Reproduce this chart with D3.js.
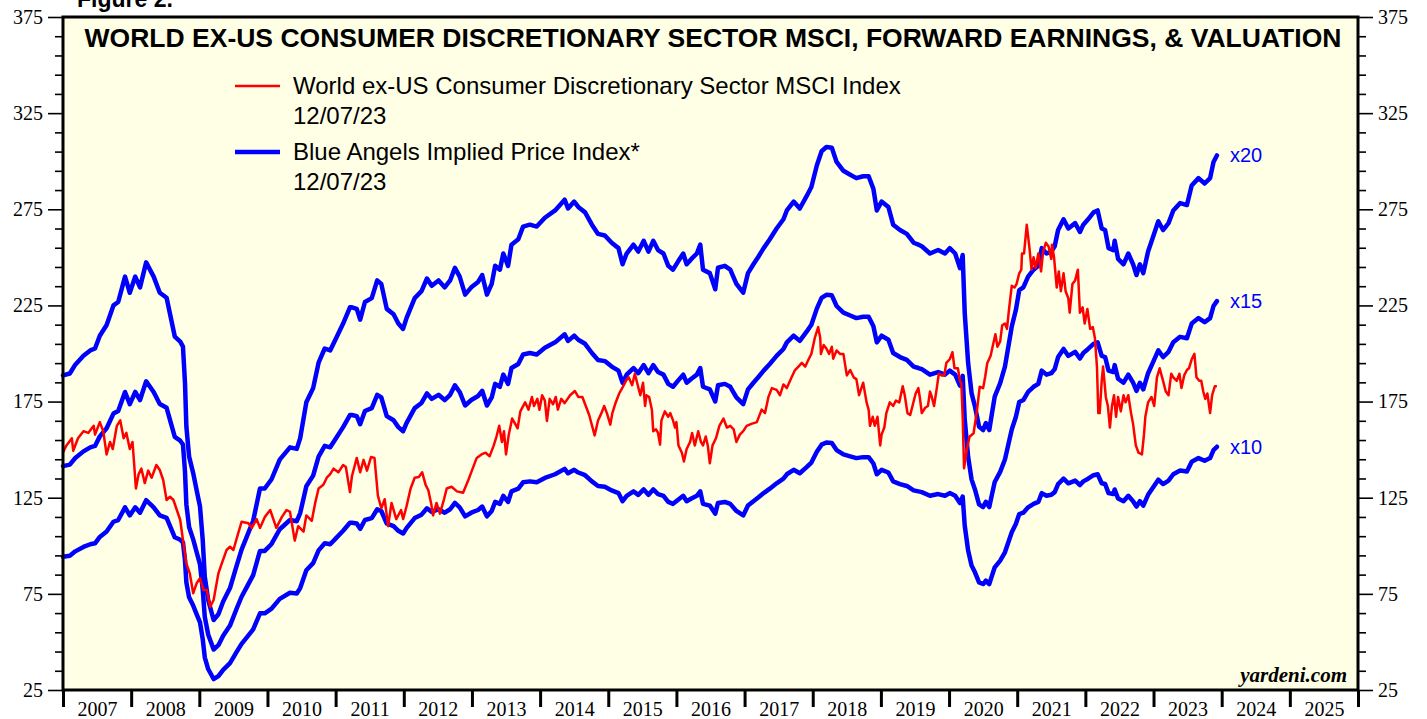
<!DOCTYPE html>
<html>
<head>
<meta charset="utf-8">
<script src="https://cdn.jsdelivr.net/npm/d3@7"></script>
<style>
  html, body { margin: 0; padding: 0; background: #ffffff; }
  svg { display: block; }
</style>
</head>
<body>
<svg id="chart" width="1427" height="719"></svg>
<script>
// ---------------- DATA ----------------
const titleText = "WORLD EX-US CONSUMER DISCRETIONARY SECTOR MSCI, FORWARD EARNINGS, & VALUATION";
const legendRed = ["World ex-US Consumer Discretionary Sector MSCI Index", "12/07/23"];
const legendBlue = ["Blue Angels Implied Price Index*", "12/07/23"];
const yMajorTicks = [25, 75, 125, 175, 225, 275, 325, 375];
const yearLabels = [2007,2008,2009,2010,2011,2012,2013,2014,2015,2016,2017,2018,2019,2020,2021,2022,2023,2024,2025];
const multiples = [10, 15, 20];

// MSCI index (red), decimal year / value
const redYears = [
2007.00,2007.05,2007.13,2007.15,2007.22,2007.30,2007.37,2007.45,2007.47,2007.54,2007.59,2007.64,2007.69,2007.73,2007.79,2007.84,2007.89,2007.93,2007.98,
2008.02,2008.07,2008.11,2008.15,2008.20,2008.25,2008.30,2008.37,2008.42,2008.47,2008.52,2008.57,2008.62,2008.67,2008.72,2008.76,2008.81,2008.86,2008.91,2008.96,
2009.01,2009.06,2009.11,2009.16,2009.21,2009.28,2009.33,2009.40,2009.45,2009.50,2009.57,2009.62,2009.72,2009.77,2009.84,2009.89,2009.96,
2010.04,2010.13,2010.21,2010.28,2010.33,2010.40,2010.45,2010.53,2010.57,2010.65,2010.70,2010.75,2010.82,2010.87,2010.92,2010.97,
2011.04,2011.11,2011.15,2011.21,2011.24,2011.31,2011.36,2011.41,2011.46,2011.52,2011.57,2011.62,2011.67,2011.72,2011.77,2011.82,2011.89,2011.96,2011.99,
2012.04,2012.10,2012.16,2012.22,2012.27,2012.32,2012.36,2012.40,2012.43,2012.48,2012.53,2012.59,2012.63,2012.70,2012.78,2012.87,2012.95,
2013.01,2013.07,2013.14,2013.20,2013.26,2013.32,2013.36,2013.40,2013.44,2013.47,2013.50,2013.54,2013.59,2013.62,2013.67,2013.71,2013.78,2013.83,2013.88,2013.91,2013.96,2013.99,
2014.03,2014.07,2014.10,2014.14,2014.19,2014.23,2014.26,2014.31,2014.36,2014.44,2014.51,2014.56,2014.62,2014.67,2014.72,2014.80,2014.85,2014.90,2014.94,2014.98,
2015.03,2015.06,2015.10,2015.16,2015.21,2015.26,2015.30,2015.35,2015.39,2015.43,2015.47,2015.51,2015.54,2015.56,2015.60,2015.64,2015.66,2015.70,2015.73,2015.76,2015.78,2015.83,2015.88,2015.91,2015.95,2015.98,
2016.00,2016.03,2016.08,2016.11,2016.15,2016.20,2016.23,2016.27,2016.32,2016.36,2016.39,2016.43,2016.46,2016.49,2016.53,2016.58,2016.63,2016.69,2016.74,2016.79,2016.84,2016.88,2016.93,2016.98,
2017.03,2017.10,2017.18,2017.25,2017.30,2017.35,2017.40,2017.47,2017.52,2017.57,2017.62,2017.69,2017.74,2017.79,2017.84,2017.89,2017.94,2017.98,
2018.03,2018.08,2018.11,2018.12,2018.16,2018.20,2018.24,2018.28,2018.30,2018.35,2018.40,2018.45,2018.50,2018.55,2018.60,2018.64,2018.68,2018.74,2018.79,2018.82,2018.84,2018.88,2018.91,2018.95,2018.99,
2019.01,2019.05,2019.08,2019.13,2019.18,2019.22,2019.27,2019.32,2019.35,2019.39,2019.43,2019.47,2019.51,2019.55,2019.57,2019.60,2019.65,2019.69,2019.72,2019.74,2019.78,2019.82,2019.85,2019.89,2019.93,2019.96,
2020.01,2020.05,2020.08,2020.13,2020.16,2020.18,2020.20,2020.22,2020.26,2020.30,2020.36,2020.41,2020.45,2020.50,2020.53,2020.56,2020.61,2020.65,2020.68,2020.71,2020.75,2020.78,2020.82,2020.85,2020.88,2020.92,2020.96,2020.99,
2021.03,2021.06,2021.07,2021.10,2021.14,2021.18,2021.21,2021.24,2021.27,2021.31,2021.35,2021.38,2021.42,2021.46,2021.50,2021.51,2021.54,2021.58,2021.61,2021.64,2021.68,2021.71,2021.75,2021.77,2021.81,2021.85,2021.89,2021.92,2021.96,2021.99,
2022.03,2022.07,2022.11,2022.14,2022.17,2022.19,2022.21,2022.24,2022.26,2022.30,2022.33,2022.36,2022.39,2022.42,2022.45,2022.48,2022.52,2022.56,2022.59,2022.63,2022.67,2022.70,2022.74,2022.78,2022.83,2022.86,2022.88,2022.92,2022.97,
2023.01,2023.05,2023.09,2023.14,2023.18,2023.22,2023.26,2023.29,2023.34,2023.38,2023.41,2023.45,2023.49,2023.52,2023.56,2023.60,2023.63,2023.67,2023.70,2023.73,2023.76,2023.79,2023.83,2023.86,2023.90,2023.93
];
const redValues = [
148.5,152.2,155.9,149.4,155.9,159.6,158.7,162.4,157.8,164.3,159.6,147.5,154.0,150.3,162.4,165.2,155.9,158.7,150.3,
154.0,129.8,137.3,140.1,132.6,139.1,135.4,142.0,139.4,134.2,123.8,125.5,123.8,118.6,113.4,103.0,90.9,85.7,75.3,80.5,
83.1,77.0,77.0,68.3,71.8,85.7,90.9,97.8,99.5,97.8,106.5,112.5,111.7,109.3,113.9,109.3,114.9,
118.6,109.3,114.9,118.6,117.7,102.7,110.2,107.4,115.8,113.0,122.3,129.8,131.7,135.4,137.3,140.1,
138.2,142.0,141.0,127.9,136.3,145.7,138.2,144.7,139.1,146.2,145.7,126.1,119.5,124.2,110.2,122.3,113.9,118.6,113.9,
120.5,129.8,135.4,135.8,138.2,131.7,128.9,122.3,115.8,122.3,116.7,124.2,129.8,130.7,128.3,127.6,134.5,
140.1,145.7,147.5,148.4,146.6,152.2,156.8,162.4,154.0,159.6,147.5,157.8,166.2,164.3,161.1,169.9,174.6,170.8,177.4,172.7,176.4,170.8,
178.3,175.5,164.9,176.4,173.6,177.4,170.8,176.4,174.2,178.3,180.5,177.4,177.4,172.7,168.0,157.4,165.2,169.0,172.7,169.0,
163.0,169.0,173.6,179.2,182.4,185.8,187.6,183.5,189.5,183.9,178.3,184.8,172.7,178.3,177.4,170.8,159.6,160.6,158.7,152.6,165.2,169.9,167.1,169.0,165.2,161.5,
164.3,152.2,148.4,143.8,150.3,154.0,158.7,152.2,159.6,154.0,152.2,156.8,152.2,142.9,152.2,155.9,162.4,166.2,161.5,162.4,160.6,154.0,157.8,159.6,
162.4,163.4,164.3,170.8,169.0,177.4,182.0,181.1,178.3,183.9,182.0,187.6,191.4,193.2,195.1,193.2,197.0,199.8,
208.1,213.7,208.1,199.8,204.4,202.6,199.8,203.5,197.3,201.6,199.8,199.8,188.6,191.4,187.6,186.7,178.3,184.8,174.6,170.8,162.4,167.1,162.4,167.1,152.2,
157.8,161.5,169.0,174.6,172.7,175.5,174.6,183.0,178.3,169.0,168.0,173.6,179.2,182.0,177.4,169.0,171.8,172.7,180.2,178.3,172.7,182.0,189.5,188.6,188.6,195.1,
197.0,200.7,192.3,192.3,185.8,184.5,167.1,140.3,149.8,156.7,158.5,170.6,182.7,182.0,187.9,194.9,198.8,205.3,210.0,203.5,206.3,214.7,215.6,212.8,223.1,235.2,234.3,236.1,
241.7,243.6,252.0,252.0,266.9,254.8,243.6,250.1,244.5,252.0,242.7,252.9,257.6,255.7,249.2,256.6,250.1,234.3,242.7,232.4,241.7,232.4,228.7,221.2,236.1,238.0,243.6,221.2,224.0,215.6,
223.1,212.8,213.7,208.1,193.2,169.0,169.0,185.8,193.2,177.4,172.7,161.5,172.7,178.3,167.1,177.4,169.9,178.3,174.6,178.3,169.0,163.4,152.2,148.4,147.5,157.8,167.1,174.6,177.4,
172.7,187.6,192.3,185.8,180.2,178.3,189.5,187.6,185.8,189.5,182.0,188.6,191.4,192.3,197.0,199.8,187.6,185.8,185.8,180.2,176.4,179.2,169.0,178.3,183.0,183.0
];

// Forward earnings (blue lines are earnings x 10, x 15, x 20)
const earnYears = [
2007.00,2007.10,2007.18,2007.30,2007.40,2007.47,2007.54,2007.64,2007.74,2007.81,2007.91,2007.98,
2008.06,2008.13,2008.22,2008.33,2008.42,2008.52,2008.64,2008.72,2008.76,2008.79,2008.81,2008.85,2008.91,2008.96,
2009.01,2009.05,2009.08,2009.13,2009.21,2009.28,2009.35,2009.45,2009.55,2009.62,2009.70,2009.79,2009.89,2009.96,
2010.06,2010.18,2010.33,2010.43,2010.48,2010.57,2010.67,2010.75,2010.84,2010.92,
2011.01,2011.11,2011.21,2011.24,2011.31,2011.36,2011.43,2011.53,2011.61,2011.67,2011.75,2011.85,2011.92,2011.99,
2012.04,2012.16,2012.26,2012.34,2012.41,2012.51,2012.60,2012.68,2012.75,2012.82,2012.90,2012.99,
2013.09,2013.15,2013.22,2013.29,2013.34,2013.41,2013.46,2013.53,2013.58,2013.68,2013.75,2013.85,2013.95,
2014.07,2014.22,2014.36,2014.41,2014.50,2014.56,2014.66,2014.76,2014.85,2014.95,
2015.05,2015.15,2015.21,2015.27,2015.37,2015.44,2015.52,2015.59,2015.66,2015.73,2015.81,2015.88,2015.95,
2016.03,2016.10,2016.15,2016.22,2016.30,2016.35,2016.39,2016.49,2016.57,2016.61,2016.71,2016.79,2016.88,2016.98,
2017.05,2017.13,2017.20,2017.28,2017.37,2017.47,2017.57,2017.62,2017.72,2017.81,2017.91,2017.98,
2018.06,2018.13,2018.20,2018.28,2018.35,2018.45,2018.55,2018.64,2018.74,2018.82,2018.89,2018.94,
2019.01,2019.11,2019.18,2019.28,2019.38,2019.48,2019.55,2019.60,2019.72,2019.84,2019.94,
2020.01,2020.09,2020.16,2020.20,2020.23,2020.28,2020.33,2020.38,2020.44,2020.50,2020.54,2020.59,2020.63,2020.67,2020.75,2020.82,2020.87,2020.92,2020.98,
2021.03,2021.09,2021.16,2021.24,2021.31,2021.36,2021.43,2021.50,2021.55,2021.60,2021.68,2021.75,2021.85,2021.92,2021.97,
2022.04,2022.12,2022.18,2022.24,2022.29,2022.34,2022.41,2022.43,2022.48,2022.56,2022.63,2022.70,2022.75,2022.80,2022.85,2022.92,
2023.00,2023.07,2023.14,2023.22,2023.29,2023.39,2023.49,2023.56,2023.66,2023.75,2023.83,2023.88,2023.93
];
const earnValues = [
9.43,9.48,9.71,9.94,10.08,10.13,10.46,10.74,11.25,11.34,12.00,11.58,
12.00,11.72,12.37,12.00,11.58,11.45,10.44,10.31,10.18,9.23,8.10,7.32,6.89,6.45,
6.02,5.15,4.20,3.59,3.07,3.22,3.55,3.90,4.50,4.90,5.25,5.65,6.49,6.49,
6.73,7.24,7.56,7.52,7.80,8.73,9.10,9.76,10.13,10.08,
10.41,10.78,11.20,11.20,11.16,10.88,11.34,11.44,11.90,11.81,11.16,11.02,10.78,10.64,
10.92,11.44,11.62,11.95,11.76,11.90,11.72,11.90,12.23,12.00,11.53,11.72,
11.86,12.04,11.53,11.81,12.28,12.18,12.60,12.28,12.83,12.97,13.30,13.35,13.30,
13.53,13.72,14.00,13.77,13.95,13.81,13.67,13.35,13.11,13.07,
12.88,12.74,12.32,12.60,12.83,12.65,12.93,12.65,12.93,12.69,12.60,12.28,12.18,
12.41,12.60,12.32,12.46,12.60,12.83,12.18,12.09,11.67,12.23,12.28,12.18,11.81,11.58,
12.09,12.32,12.51,12.74,12.97,13.25,13.49,13.72,13.95,13.77,14.09,14.33,
14.89,15.26,15.37,15.35,14.98,14.75,14.65,14.56,14.61,14.61,14.28,13.72,
13.95,13.81,13.35,13.21,13.11,12.88,12.83,12.79,12.60,12.69,12.60,
12.74,12.60,12.22,12.56,11.05,9.75,8.97,8.62,8.10,8.01,8.19,8.01,8.45,8.88,9.23,9.66,10.18,10.70,11.13,
11.65,11.72,12.00,12.18,12.28,12.74,12.60,12.65,12.79,13.21,13.49,13.25,13.39,13.16,13.35,
13.49,13.67,13.72,13.25,13.21,12.74,12.69,12.93,12.46,12.32,12.60,12.32,12.04,12.32,12.09,12.65,
13.07,13.44,13.21,13.39,13.72,13.91,13.86,14.37,14.56,14.42,14.56,14.98,15.15
];

// ---------------- CHART ----------------
const svg = d3.select("#chart");
const L = 63, R = 1358, T = 17, B = 690;

const x = d3.scaleLinear().domain([2007, 2026]).range([L, R]);
const y = d3.scaleLinear().domain([25, 375]).range([B, T]);

const sans = "'Liberation Sans', Arial, Helvetica, sans-serif";
const serif = "'Liberation Serif', 'Times New Roman', Times, serif";

// plot background
svg.append("rect").attr("x", L).attr("y", T).attr("width", R - L).attr("height", B - T)
  .attr("fill", "#ffffe6");

// Figure label (cropped at top, as in the source page)
svg.append("text").attr("x", 77).attr("y", 7)
  .attr("font-family", sans).attr("font-weight", "bold").attr("font-size", 23)
  .attr("fill", "#000").text("Figure 2.");

// Y axes
const minorTicks = d3.range(35, 375, 10).filter(v => !yMajorTicks.includes(v));
function styleAxis(g) {
  g.select(".domain").remove();
  g.selectAll(".tick line").attr("stroke", "#000").attr("stroke-width", 1.6);
  g.selectAll(".tick text").attr("font-family", serif).attr("font-size", 20).attr("fill", "#000");
}
svg.append("g").attr("transform", `translate(${L},0)`)
  .call(d3.axisLeft(y).tickValues(yMajorTicks).tickSize(15).tickPadding(5).tickFormat(d3.format("d")))
  .call(styleAxis);
svg.append("g").attr("transform", `translate(${L},0)`)
  .call(d3.axisLeft(y).tickValues(minorTicks).tickSize(8).tickFormat(""))
  .call(styleAxis);
svg.append("g").attr("transform", `translate(${R},0)`)
  .call(d3.axisRight(y).tickValues(yMajorTicks).tickSize(15).tickPadding(5).tickFormat(d3.format("d")))
  .call(styleAxis);
svg.append("g").attr("transform", `translate(${R},0)`)
  .call(d3.axisRight(y).tickValues(minorTicks).tickSize(8).tickFormat(""))
  .call(styleAxis);

// X axis: year boundary ticks + centered labels
const yearBounds = d3.range(2007, 2027);
svg.append("g").attr("transform", `translate(0,${B})`)
  .call(d3.axisBottom(x).tickValues(yearBounds).tickSize(17).tickFormat(""))
  .call(g => {
    g.select(".domain").remove();
    g.selectAll(".tick line").attr("stroke", "#000").attr("stroke-width", 3);
  });
svg.append("g").attr("transform", `translate(0,${B})`)
  .call(d3.axisBottom(x).tickValues(yearLabels.map(v => v + 0.5)).tickSize(0).tickPadding(12)
    .tickFormat(d => String(Math.floor(d))))
  .call(g => {
    g.select(".domain").remove();
    g.selectAll(".tick text").attr("font-family", serif).attr("font-size", 20).attr("fill", "#000");
  });

// Lines
const redData = redYears.map((t, i) => [t, redValues[i]]);
const line = d3.line().x(d => x(d[0])).y(d => y(d[1]));

multiples.forEach(m => {
  const data = earnYears.map((t, i) => [t, earnValues[i] * m]);
  svg.append("path").datum(data).attr("d", line)
    .attr("fill", "none").attr("stroke", "#0000ff").attr("stroke-width", 4.5)
    .attr("stroke-linejoin", "round").attr("stroke-linecap", "round");
  const last = data[data.length - 1];
  svg.append("text").attr("x", x(last[0]) + 13).attr("y", y(last[1]) + 7)
    .attr("font-family", sans).attr("font-size", 20).attr("fill", "#0000ff")
    .text("x" + m);
});

svg.append("path").datum(redData).attr("d", line)
  .attr("fill", "none").attr("stroke", "#ff0000").attr("stroke-width", 2.5)
  .attr("stroke-linejoin", "round");

// Plot border
svg.append("rect").attr("x", L).attr("y", T).attr("width", R - L).attr("height", B - T)
  .attr("fill", "none").attr("stroke", "#000").attr("stroke-width", 3);

// Title
svg.append("text").attr("x", 713).attr("y", 47).attr("text-anchor", "middle")
  .attr("font-family", sans).attr("font-weight", "bold").attr("font-size", 26.5)
  .attr("fill", "#000").text(titleText);

// Legend
const lg = svg.append("g");
lg.append("line").attr("x1", 235).attr("x2", 280).attr("y1", 86).attr("y2", 86)
  .attr("stroke", "#ff0000").attr("stroke-width", 2.5);
lg.append("line").attr("x1", 235).attr("x2", 280).attr("y1", 152).attr("y2", 152)
  .attr("stroke", "#0000ff").attr("stroke-width", 4.5);
[[legendRed, 94], [legendBlue, 160]].forEach(([lines, y0]) => {
  lines.forEach((s, i) => {
    lg.append("text").attr("x", 293).attr("y", y0 + i * 30)
      .attr("font-family", sans).attr("font-size", 24).attr("fill", "#000").text(s);
  });
});

// Source
svg.append("text").attr("x", 1347).attr("y", 682).attr("text-anchor", "end")
  .attr("font-family", serif).attr("font-weight", "bold").attr("font-style", "italic")
  .attr("font-size", 21).attr("fill", "#000").text("yardeni.com");
</script>
</body>
</html>
